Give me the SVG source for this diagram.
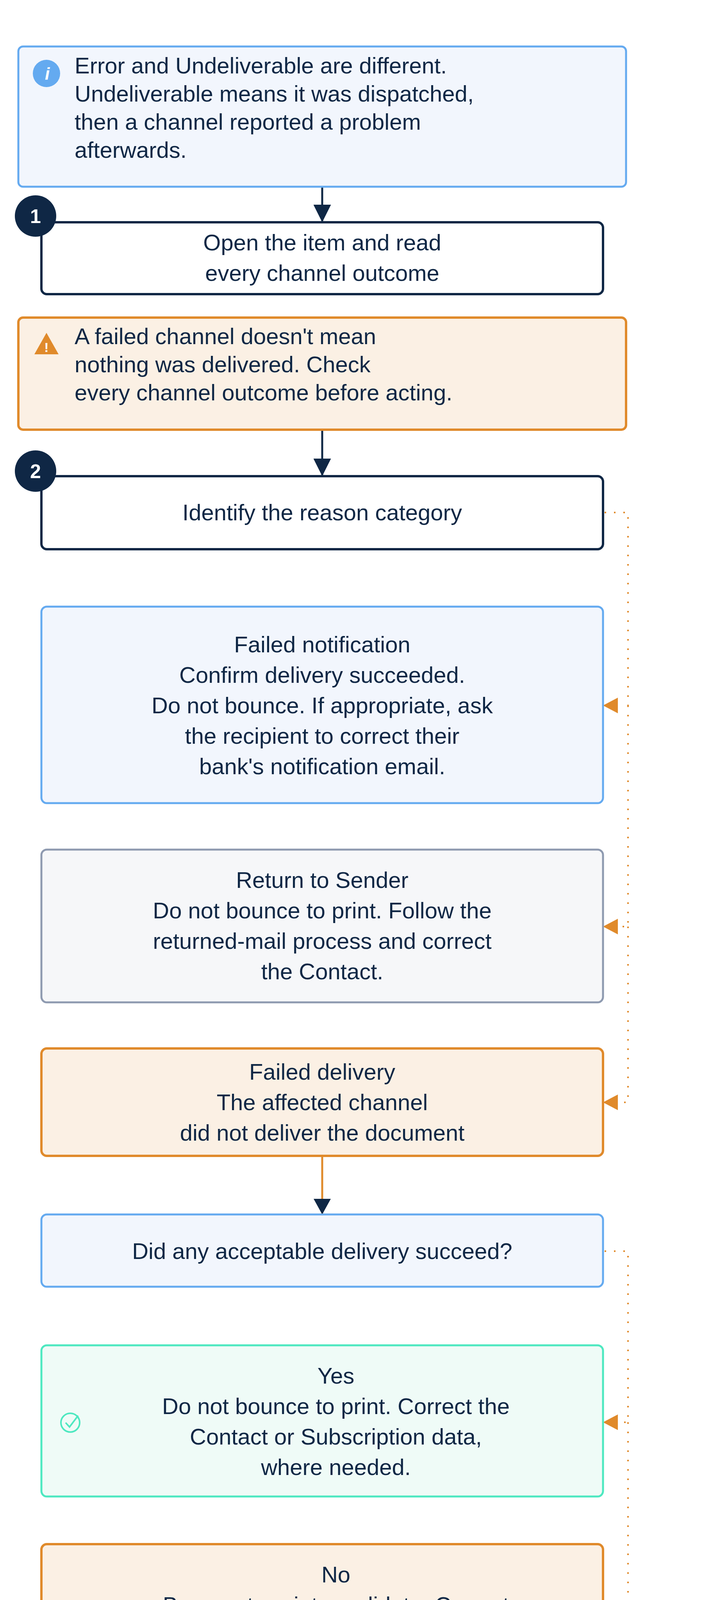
<svg xmlns="http://www.w3.org/2000/svg" width="1800" height="4914" viewBox="0 0 1800 4914">
<style>
text{font-family:"Liberation Sans",Arial,sans-serif;font-size:58px;fill:#0f2745}
.c{text-anchor:middle}
.blue{fill:#f2f6fd;stroke:#64aaf0;stroke-width:5}
.dark{fill:#fff;stroke:#0f2745;stroke-width:6}
.org{fill:#fbf0e4;stroke:#e08a2b;stroke-width:6}
.gray{fill:#f6f7f9;stroke:#8e9ab0;stroke-width:5}
.grn{fill:#effbf7;stroke:#4de8c0;stroke-width:5}
.num{fill:#fff;font-weight:bold;font-size:50px;text-anchor:middle}
.solid{stroke:#0f2745;stroke-width:5;fill:none}
.dot{stroke:#e08a2b;stroke-width:4;fill:none;stroke-dasharray:4 20}
</style>
<defs>
<marker id="ad" viewBox="0 0 10 10" refX="10" refY="5" markerWidth="9" markerHeight="9" markerUnits="strokeWidth" orient="auto"><path d="M0,0L10,5L0,10z" fill="#0f2745"/></marker>
<marker id="ao" viewBox="0 0 10 10" refX="10" refY="5" markerWidth="10" markerHeight="10" markerUnits="strokeWidth" orient="auto"><path d="M0,0L10,5L0,10z" fill="#e08a2b"/></marker>
</defs>
<g id="connectors">
<path class="solid" d="M825,478V569" marker-end="url(#ad)"/>
<path class="solid" d="M825,1100V1219" marker-end="url(#ad)"/>
<path d="M825,2959V3109" stroke="#e08a2b" stroke-width="5" fill="none"/>
<path d="M803,3069L825,3109L847,3069z" fill="#0f2745"/>
<path class="dot" d="M1548,1312H1608V1806H1586"/>
<path class="dot" d="M1608,1806V2372H1586"/>
<path class="dot" d="M1608,2372V2822H1586"/>
<path d="M1582,1786L1544,1806L1582,1826z M1582,2352L1544,2372L1582,2392z M1582,2802L1544,2822L1582,2842z" fill="#e08a2b"/>
<path class="dot" d="M1548,3203H1608V3641H1586"/>
<path class="dot" d="M1608,3641V4147H1586"/>
<path d="M1582,3621L1544,3641L1582,3661z M1582,4127L1544,4147L1582,4167z" fill="#e08a2b"/>
</g>
<g id="info1">
<rect class="blue" x="47" y="119" width="1556" height="359" rx="12"/>
<circle cx="119" cy="188" r="35" fill="#64aaf0"/>
<text x="121" y="204" class="c" style="fill:#fff;font-weight:bold;font-style:italic;font-size:44px">i</text>
<text x="191" y="188">Error and Undeliverable are different.</text>
<text x="191" y="260">Undeliverable means it was dispatched,</text>
<text x="191" y="332">then a channel reported a problem</text>
<text x="191" y="404">afterwards.</text>
</g>
<g id="step1">
<rect class="dark" x="106" y="569" width="1438" height="184" rx="14"/>
<circle cx="91" cy="553" r="53" fill="#0f2745"/>
<text x="91" y="571" class="num">1</text>
<text x="825" y="641" class="c">Open the item and read</text>
<text x="825" y="719" class="c">every channel outcome</text>
</g>
<g id="warn">
<rect class="org" x="47" y="813" width="1556" height="287" rx="12"/>
<path d="M119,852L150,907H88z" fill="#e08a2b"/>
<text x="119" y="901" class="c" style="fill:#fff;font-weight:bold;font-size:34px">!</text>
<text x="191" y="881">A failed channel doesn't mean</text>
<text x="191" y="953">nothing was delivered. Check</text>
<text x="191" y="1025">every channel outcome before acting.</text>
</g>
<g id="step2">
<rect class="dark" x="106" y="1219" width="1438" height="187" rx="14"/>
<circle cx="91" cy="1206" r="53" fill="#0f2745"/>
<text x="91" y="1224" class="num">2</text>
<text x="825" y="1332" class="c">Identify the reason category</text>
</g>
<g id="failed-notification">
<rect class="blue" x="106" y="1553" width="1438" height="503" rx="14"/>
<text x="825" y="1670" class="c">Failed notification</text>
<text x="825" y="1748" class="c">Confirm delivery succeeded.</text>
<text x="825" y="1826" class="c">Do not bounce. If appropriate, ask</text>
<text x="825" y="1904" class="c">the recipient to correct their</text>
<text x="825" y="1982" class="c">bank's notification email.</text>
</g>
<g id="return-to-sender">
<rect class="gray" x="106" y="2175" width="1438" height="391" rx="14"/>
<text x="825" y="2273" class="c">Return to Sender</text>
<text x="825" y="2351" class="c">Do not bounce to print. Follow the</text>
<text x="825" y="2429" class="c">returned-mail process and correct</text>
<text x="825" y="2507" class="c">the Contact.</text>
</g>
<g id="failed-delivery">
<rect class="org" x="106" y="2684" width="1438" height="275" rx="14"/>
<text x="825" y="2764" class="c">Failed delivery</text>
<text x="825" y="2842" class="c">The affected channel</text>
<text x="825" y="2920" class="c">did not deliver the document</text>
</g>
<g id="decision">
<rect class="blue" x="106" y="3109" width="1438" height="185" rx="14"/>
<text x="825" y="3223" class="c">Did any acceptable delivery succeed?</text>
</g>
<g id="yes">
<rect class="grn" x="106" y="3444" width="1438" height="387" rx="14"/>
<circle cx="180" cy="3642" r="24" fill="none" stroke="#4de8c0" stroke-width="4"/>
<path d="M168,3642L178,3653L200,3624" fill="none" stroke="#4de8c0" stroke-width="4"/>
<text x="860" y="3542" class="c">Yes</text>
<text x="860" y="3620" class="c">Do not bounce to print. Correct the</text>
<text x="860" y="3698" class="c">Contact or Subscription data,</text>
<text x="860" y="3776" class="c">where needed.</text>
</g>
<g id="no">
<rect class="org" x="106" y="3953" width="1438" height="388" rx="14"/>
<rect x="155" y="4133" width="50" height="38" fill="none" stroke="#e08a2b" stroke-width="3"/>
<path d="M155,4133L180,4155L205,4133" fill="none" stroke="#e08a2b" stroke-width="3"/>
<text x="860" y="4051" class="c">No</text>
<text x="860" y="4129" class="c">Bounce-to-print candidate. Correct</text>
<text x="860" y="4207" class="c">the Contact or Subscription data</text>
<text x="860" y="4285" class="c">too.</text>
</g>
<g id="info2">
<rect class="blue" x="47" y="4491" width="1556" height="287" rx="12"/>
<circle cx="119" cy="4560" r="35" fill="#64aaf0"/>
<text x="121" y="4576" class="c" style="fill:#fff;font-weight:bold;font-style:italic;font-size:44px">i</text>
<text x="191" y="4560">Bounce-to-print requires an agreed</text>
<text x="191" y="4632">mailhouse process. It is not a</text>
<text x="191" y="4704">console setting.</text>
</g>
</svg>
